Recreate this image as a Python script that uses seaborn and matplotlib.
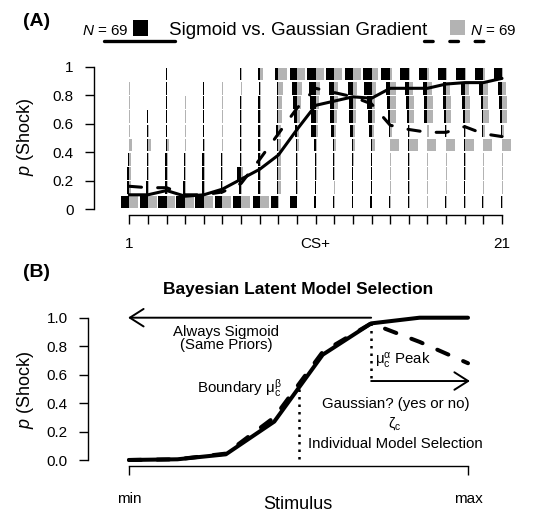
import numpy as np
import pandas as pd
import matplotlib
matplotlib.use("Agg")
import matplotlib.pyplot as plt
import seaborn as sns
from matplotlib.lines import Line2D
from matplotlib.patches import Rectangle

# ---------------- data: panel A ----------------
stimuli = np.arange(1, 22)
tick_labels_a = ["1"] + [""] * 9 + ["CS+"] + [""] * 9 + ["21"]
response_bins = [0.0, 0.1, 0.2, 0.3, 0.4, 0.5, 0.6, 0.7, 0.8, 0.9]

# share of each group per response bin (rows = stimulus 1..21, cols = bins low->high)
sigmoid_share = [
    [0.90, 0.20, 0.20, 0.10, 0.05, 0.05, 0.05, 0.05, 0.05, 0.00],
    [0.90, 0.20, 0.15, 0.10, 0.05, 0.05, 0.05, 0.00, 0.00, 0.00],
    [0.90, 0.20, 0.20, 0.15, 0.05, 0.05, 0.05, 0.05, 0.05, 0.05],
    [0.95, 0.20, 0.15, 0.10, 0.05, 0.05, 0.00, 0.05, 0.00, 0.00],
    [0.90, 0.20, 0.20, 0.15, 0.10, 0.05, 0.05, 0.05, 0.05, 0.00],
    [0.85, 0.20, 0.20, 0.15, 0.10, 0.10, 0.10, 0.05, 0.05, 0.00],
    [0.85, 0.20, 0.40, 0.15, 0.15, 0.10, 0.15, 0.10, 0.05, 0.10],
    [0.75, 0.20, 0.20, 0.20, 0.20, 0.15, 0.20, 0.15, 0.10, 0.20],
    [0.75, 0.15, 0.20, 0.20, 0.20, 0.25, 0.20, 0.20, 0.15, 0.40],
    [0.75, 0.10, 0.10, 0.15, 0.15, 0.20, 0.30, 0.40, 0.55, 0.80],
    [0.15, 0.10, 0.10, 0.10, 0.15, 0.55, 0.55, 0.60, 0.70, 0.90],
    [0.15, 0.05, 0.10, 0.10, 0.15, 0.35, 0.45, 0.45, 0.55, 0.90],
    [0.10, 0.05, 0.05, 0.10, 0.10, 0.30, 0.40, 0.45, 0.50, 0.90],
    [0.20, 0.05, 0.05, 0.05, 0.10, 0.25, 0.35, 0.50, 0.80, 0.95],
    [0.10, 0.05, 0.05, 0.05, 0.05, 0.15, 0.25, 0.35, 0.50, 0.95],
    [0.10, 0.05, 0.05, 0.05, 0.05, 0.10, 0.20, 0.35, 0.45, 0.90],
    [0.10, 0.05, 0.05, 0.05, 0.05, 0.10, 0.35, 0.35, 0.50, 0.90],
    [0.10, 0.05, 0.05, 0.05, 0.05, 0.10, 0.20, 0.30, 0.35, 0.90],
    [0.10, 0.05, 0.05, 0.05, 0.05, 0.10, 0.20, 0.30, 0.35, 0.90],
    [0.10, 0.05, 0.05, 0.05, 0.05, 0.10, 0.20, 0.30, 0.50, 0.90],
    [0.10, 0.05, 0.05, 0.05, 0.05, 0.10, 0.20, 0.30, 0.40, 0.90],
]
gaussian_share = [
    [0.95, 0.15, 0.15, 0.15, 0.30, 0.10, 0.10, 0.05, 0.05, 0.00],
    [0.95, 0.15, 0.15, 0.10, 0.30, 0.10, 0.05, 0.00, 0.00, 0.00],
    [0.95, 0.15, 0.10, 0.10, 0.30, 0.05, 0.05, 0.00, 0.05, 0.05],
    [0.95, 0.10, 0.10, 0.10, 0.10, 0.05, 0.05, 0.05, 0.00, 0.00],
    [0.95, 0.10, 0.10, 0.10, 0.10, 0.05, 0.05, 0.05, 0.05, 0.00],
    [0.95, 0.10, 0.10, 0.10, 0.10, 0.10, 0.05, 0.05, 0.05, 0.00],
    [0.95, 0.10, 0.15, 0.10, 0.10, 0.10, 0.10, 0.05, 0.05, 0.05],
    [0.95, 0.10, 0.10, 0.10, 0.10, 0.10, 0.10, 0.10, 0.10, 0.30],
    [0.10, 0.25, 0.25, 0.30, 0.30, 0.30, 0.35, 0.40, 0.45, 0.90],
    [0.05, 0.10, 0.10, 0.15, 0.20, 0.25, 0.35, 0.40, 0.50, 0.90],
    [0.05, 0.05, 0.10, 0.10, 0.15, 0.20, 0.30, 0.40, 0.45, 0.85],
    [0.05, 0.05, 0.05, 0.10, 0.15, 0.20, 0.30, 0.40, 0.45, 0.85],
    [0.05, 0.05, 0.05, 0.10, 0.20, 0.20, 0.30, 0.35, 0.45, 0.85],
    [0.05, 0.05, 0.05, 0.10, 0.40, 0.25, 0.35, 0.40, 0.45, 0.70],
    [0.05, 0.10, 0.10, 0.10, 0.95, 0.20, 0.60, 0.60, 0.60, 0.20],
    [0.10, 0.10, 0.10, 0.10, 0.95, 0.15, 0.60, 0.55, 0.45, 0.15],
    [0.10, 0.10, 0.05, 0.10, 0.95, 0.15, 0.55, 0.55, 0.45, 0.15],
    [0.10, 0.10, 0.10, 0.10, 0.95, 0.15, 0.55, 0.55, 0.45, 0.15],
    [0.10, 0.05, 0.10, 0.10, 0.95, 0.15, 0.55, 0.60, 0.50, 0.15],
    [0.10, 0.10, 0.10, 0.10, 0.95, 0.20, 0.60, 0.55, 0.45, 0.15],
    [0.10, 0.10, 0.10, 0.10, 0.95, 0.20, 0.55, 0.55, 0.45, 0.15],
]
sigmoid_mean = [0.10, 0.10, 0.13, 0.09, 0.10, 0.14, 0.21, 0.28, 0.38, 0.56, 0.73,
                0.76, 0.79, 0.78, 0.85, 0.85, 0.85, 0.88, 0.89, 0.89, 0.92]
gaussian_mean = [0.16, 0.15, 0.15, 0.10, 0.10, 0.12, 0.18, 0.35, 0.53, 0.71, 0.85,
                 0.82, 0.79, 0.74, 0.59, 0.56, 0.54, 0.54, 0.58, 0.53, 0.51]

# ---------------- data: panel B ----------------
stim_b = [1, 2, 3, 4, 5, 6, 7, 8]
sigmoid_curve = [0.0, 0.005, 0.04, 0.27, 0.74, 0.96, 1.0, 1.0]
gaussian_curve = [0.0, 0.005, 0.045, 0.30, 0.76, 0.96, 0.83, 0.68]
boundary_x, boundary_y = 4.5, 0.5
peak_x, peak_y = 6, 0.96

W, H = 553, 514
GRAY = "#b3b3b3"


def fx(px):
    return px / W


def fy(py):
    return 1 - py / H


def px_axes(l, t, r, b):
    return [fx(l), fy(b), (r - l) / W, (b - t) / H]


sns.set_style("ticks")
plt.rcParams["font.family"] = ["Liberation Sans", "DejaVu Sans"]
plt.rcParams["mathtext.fontset"] = "custom"
plt.rcParams["mathtext.rm"] = "Liberation Sans"
plt.rcParams["mathtext.it"] = "Liberation Sans:italic"
plt.rcParams["mathtext.bf"] = "Liberation Sans:bold"
for key in ["text.color", "axes.labelcolor", "xtick.color", "ytick.color",
            "axes.edgecolor"]:
    plt.rcParams[key] = "black"

fig = plt.figure(figsize=(W / 100, H / 100), dpi=100)
fig.patch.set_facecolor("white")


def style_axis(ax):
    for side in ["top", "right"]:
        ax.spines[side].set_visible(False)
    for side in ["left", "bottom"]:
        ax.spines[side].set_linewidth(1.0)
        ax.spines[side].set_color("black")
    ax.tick_params(axis="both", length=6.5, width=1.0, color="black",
                   labelcolor="black", labelsize=11, pad=8, direction="out")
    ax.set_facecolor("none")
    ax.grid(False)


# ================= Panel A =================
axA = fig.add_axes(px_axes(94, 64, 512, 215))
half = 0.5
sig = np.array(sigmoid_share)
gau = np.array(gaussian_share)
xs = np.repeat(stimuli, len(response_bins)).astype(float)
bins = np.tile(response_bins, len(stimuli))
w_sig = sig.ravel() * half
w_gau = gau.ravel() * half
axA.bar(xs - w_sig, 0.09, width=w_sig, bottom=bins + 0.005, align="edge",
        color="black", linewidth=0)
axA.bar(xs, 0.09, width=w_gau, bottom=bins + 0.005, align="edge",
        color=GRAY, linewidth=0)

means = pd.DataFrame({"stim": stimuli, "sig": sigmoid_mean, "gau": gaussian_mean})
sns.lineplot(data=means, x="stim", y="sig", ax=axA, color="black", lw=2.2,
             solid_capstyle="round", solid_joinstyle="round")
sns.lineplot(data=means, x="stim", y="gau", ax=axA, color="black", lw=2.2,
             linestyle=(0, (4, 5.3)), dash_capstyle="round")

axA.set_xlim(1 + (94 - 129.3) / 18.635, 1 + (512 - 129.3) / 18.635)
axA.set_ylim(-6 / 142, 145 / 142)
axA.set_xticks(stimuli)
axA.set_xticklabels(tick_labels_a)
axA.set_yticks([0, 0.2, 0.4, 0.6, 0.8, 1.0])
axA.set_yticklabels(["0", "0.2", "0.4", "0.6", "0.8", "1"])
axA.set_xlabel("")
axA.set_ylabel("")
style_axis(axA)
axA.tick_params(axis="x", pad=9)
axA.spines["left"].set_bounds(0, 1)
axA.spines["bottom"].set_bounds(1, 21)

# panel A header / legend
fig.text(fx(23), fy(26), "(A)", fontsize=14, fontweight="bold", ha="left", va="baseline")
fig.text(fx(82), fy(35), r"$N$ = 69", fontsize=11, ha="left", va="baseline")
fig.add_artist(Rectangle((fx(133), fy(36)), 15 / W, 16 / H, transform=fig.transFigure,
                         facecolor="black", edgecolor="none"))
fig.text(fx(298), fy(35), "Sigmoid vs. Gaussian Gradient", fontsize=13.5,
         ha="center", va="baseline")
fig.add_artist(Rectangle((fx(450), fy(35)), 15 / W, 15 / H, transform=fig.transFigure,
                         facecolor=GRAY, edgecolor="none"))
fig.text(fx(470), fy(35), r"$N$ = 69", fontsize=11, ha="left", va="baseline")
fig.add_artist(Line2D([fx(104), fx(175)], [fy(41), fy(41)], transform=fig.transFigure,
                      color="black", lw=2.4, solid_capstyle="round"))
fig.add_artist(Line2D([fx(424), fx(489)], [fy(41), fy(41)], transform=fig.transFigure,
                      color="black", lw=2.4, linestyle=(0, (2.6, 5.0)),
                      dash_capstyle="round"))
fig.text(fx(25), fy(137), r"$p$ (Shock)", fontsize=13, rotation=90,
         ha="center", va="center")

# ================= Panel B =================
axB = fig.add_axes(px_axes(88, 312, 482, 466))
curves = pd.DataFrame({"stim": stim_b, "sig": sigmoid_curve, "gau": gaussian_curve})
sns.lineplot(data=curves, x="stim", y="gau", ax=axB, color="black", lw=2.9,
             linestyle=(0, (3, 4)), dash_capstyle="round")
sns.lineplot(data=curves, x="stim", y="sig", ax=axB, color="black", lw=2.9,
             solid_capstyle="round", solid_joinstyle="round")

axB.plot([boundary_x, boundary_x], [boundary_y, -0.005], color="black", lw=1.8,
         linestyle=(0, (1, 2)))
axB.plot([peak_x, peak_x], [peak_y, 0.555], color="black", lw=1.8,
         linestyle=(0, (1, 2)))
axB.annotate("", xy=(0.98, 1.0), xytext=(peak_x, 1.0),
             arrowprops=dict(arrowstyle="->,head_length=0.55,head_width=0.35",
                             lw=1.4, color="black", mutation_scale=18,
                             shrinkA=0, shrinkB=0))
axB.annotate("", xy=(8.04, 0.555), xytext=(peak_x, 0.555),
             arrowprops=dict(arrowstyle="->,head_length=0.55,head_width=0.35",
                             lw=1.4, color="black", mutation_scale=18,
                             shrinkA=0, shrinkB=0))

axB.text(3.0, 0.871, "Always Sigmoid", fontsize=10.8, ha="center", va="baseline")
axB.text(3.0, 0.78, "(Same Priors)", fontsize=10.8, ha="center", va="baseline")
axB.text(6.08, 0.667, r"$\mathrm{μ}_\mathrm{c}^\mathrm{α}$ Peak", fontsize=10.8,
         ha="left", va="baseline")
axB.text(4.16, 0.47, r"Boundary $\mathrm{μ}_\mathrm{c}^\mathrm{β}$", fontsize=10.8,
         ha="right", va="baseline")
axB.text(6.51, 0.365, "Gaussian? (yes or no)", fontsize=10.8, ha="center", va="baseline")
axB.text(6.49, 0.225, r"$\mathrm{ζ}_\mathrm{c}$", fontsize=10.5, ha="center", va="baseline")
axB.text(6.49, 0.085, "Individual Model Selection", fontsize=10.8, ha="center",
         va="baseline")

axB.set_xlim(1 + (88 - 129) / 48.43, 1 + (482 - 129) / 48.43)
axB.set_ylim(-6 / 142.3, 148 / 142.3)
axB.set_xticks([1, 8])
axB.set_xticklabels(["min", "max"])
axB.set_yticks([0, 0.2, 0.4, 0.6, 0.8, 1.0])
axB.set_yticklabels(["0.0", "0.2", "0.4", "0.6", "0.8", "1.0"])
axB.set_xlabel("")
axB.set_ylabel("")
style_axis(axB)
axB.tick_params(axis="x", pad=12)
axB.spines["left"].set_bounds(0, 1)
axB.spines["bottom"].set_bounds(1, 8)

fig.text(fx(23), fy(277), "(B)", fontsize=14, fontweight="bold", ha="left", va="baseline")
fig.text(fx(298), fy(294), "Bayesian Latent Model Selection", fontsize=12.5,
         fontweight="bold", ha="center", va="baseline")
fig.text(fx(298), fy(509), "Stimulus", fontsize=13, ha="center", va="baseline")
fig.text(fx(25), fy(390), r"$p$ (Shock)", fontsize=13, rotation=90,
         ha="center", va="center")

fig.savefig("out.png", dpi=100, facecolor="white")
